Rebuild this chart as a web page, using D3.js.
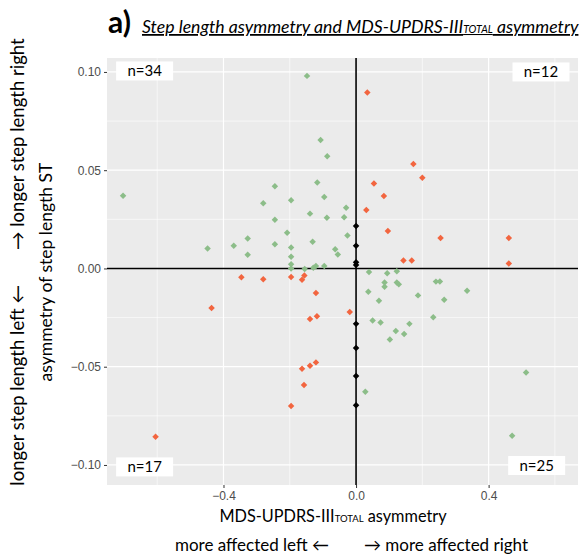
<!DOCTYPE html>
<html>
<head>
<meta charset="utf-8">
<script src="https://cdn.jsdelivr.net/npm/d3@7"></script>
<style>
  body { margin: 0; background: #fff; }
  text { font-family: Lato, "Open Sans", sans-serif; }
  .tick text { font-family: "Liberation Sans", Arial, sans-serif; }
</style>
</head>
<body>
<svg id="chart" width="580" height="556"></svg>
<script>
// upper-left / lower-right quadrant points (green)
var greenX = [-0.148, -0.107, -0.087, -0.703, -0.245, -0.117, -0.280, -0.196, -0.096, -0.139,
              -0.088, -0.036, -0.030, -0.245, -0.208, -0.026, -0.327, -0.369, -0.245, -0.196,
              -0.131, -0.063, -0.055, -0.448, -0.327, -0.196, -0.196, -0.196, -0.155, -0.129,
              -0.121, -0.096,
              0.039, 0.094, 0.123, 0.086, 0.086, 0.123, 0.129, 0.241, 0.253, 0.335,
              0.037, 0.187, 0.069, 0.266, 0.233, 0.050, 0.074, 0.161, 0.120, 0.145,
              0.102, 0.028, 0.513, 0.471];
var greenY = [0.0980, 0.0654, 0.0571, 0.0370, 0.0418, 0.0438, 0.0332, 0.0347, 0.0364, 0.0279,
              0.0258, 0.0261, 0.0309, 0.0248, 0.0182, 0.0168, 0.0153, 0.0116, 0.0123, 0.0107,
              0.0136, 0.0098, 0.0071, 0.0101, 0.0070, 0.0060, 0.0021, 0.0000, -0.0003, 0.0004,
              0.0013, 0.0013,
              -0.0018, -0.0024, -0.0014, -0.0072, -0.0093, -0.0071, -0.0081, -0.0067, -0.0066, -0.0113,
              -0.0119, -0.0137, -0.0164, -0.0159, -0.0248, -0.0265, -0.0275, -0.0282, -0.0318, -0.0333,
              -0.0361, -0.0628, -0.0530, -0.0851];

// upper-right / lower-left quadrant points (red)
var redX = [0.034, 0.173, 0.200, 0.054, 0.084, 0.031, 0.096, 0.255, 0.461, 0.143, 0.168, 0.461,
            -0.346, -0.280, -0.196, -0.163, -0.156, -0.121, -0.436, -0.139, -0.118, -0.019,
            -0.163, -0.139, -0.121, -0.157, -0.196, -0.605];
var redY = [0.0895, 0.0532, 0.0462, 0.0432, 0.0369, 0.0298, 0.0191, 0.0155, 0.0155, 0.0041, 0.0041, 0.0025,
            -0.0045, -0.0055, -0.0044, -0.0058, -0.0036, -0.0125, -0.0201, -0.0257, -0.0243, -0.0222,
            -0.0510, -0.0495, -0.0478, -0.0593, -0.0700, -0.0856];

// symmetric UPDRS (x = 0)
var blackY = [0.0216, 0.0115, 0.0031, 0.0018, -0.0282, -0.0405, -0.0547, -0.0696];

var xTicks = [-0.4, 0, 0.4];
var yTicks = [-0.10, -0.05, 0, 0.05, 0.10];
var countLabels = ["n=34", "n=12", "n=17", "n=25"];
var countX = [-0.638, 0.558, -0.638, 0.545];
var countY = [0.1005, 0.1000, -0.1010, -0.1003];

var svg = d3.select("svg#chart"),
    margin = {top: 58, right: 2, bottom: 71, left: 107},
    width = +svg.attr("width") - margin.left - margin.right,
    height = +svg.attr("height") - margin.top - margin.bottom;

var x = d3.scaleLinear().domain([-0.7515, 0.6697]).range([0, width]),
    y = d3.scaleLinear().domain([-0.1102, 0.1071]).range([height, 0]);

var g = svg.append("g")
    .attr("transform", "translate(" + margin.left + "," + margin.top + ")");

g.append("rect")
    .attr("width", width)
    .attr("height", height)
    .attr("fill", "#ebebeb");

// minor grid sits halfway between the major breaks
var xMinor = [-0.6, -0.2, 0.2, 0.6],
    yMinor = [-0.075, -0.025, 0.025, 0.075];

g.selectAll(".vminor").data(xMinor).enter().append("line")
    .attr("x1", function(d) { return x(d); }).attr("x2", function(d) { return x(d); })
    .attr("y1", 0).attr("y2", height)
    .attr("stroke", "#fff").attr("stroke-width", 0.6);
g.selectAll(".hminor").data(yMinor).enter().append("line")
    .attr("y1", function(d) { return y(d); }).attr("y2", function(d) { return y(d); })
    .attr("x1", 0).attr("x2", width)
    .attr("stroke", "#fff").attr("stroke-width", 0.6);
g.selectAll(".vmajor").data(xTicks).enter().append("line")
    .attr("x1", function(d) { return x(d); }).attr("x2", function(d) { return x(d); })
    .attr("y1", 0).attr("y2", height)
    .attr("stroke", "#fff").attr("stroke-width", 1.2);
g.selectAll(".hmajor").data(yTicks).enter().append("line")
    .attr("y1", function(d) { return y(d); }).attr("y2", function(d) { return y(d); })
    .attr("x1", 0).attr("x2", width)
    .attr("stroke", "#fff").attr("stroke-width", 1.2);

// zero lines
g.append("line")
    .attr("x1", 0).attr("x2", width).attr("y1", y(0)).attr("y2", y(0))
    .attr("stroke", "#000").attr("stroke-width", 1.6);
g.append("line")
    .attr("x1", x(0)).attr("x2", x(0)).attr("y1", 0).attr("y2", height)
    .attr("stroke", "#000").attr("stroke-width", 1.6);

var diamond = d3.symbol().type(d3.symbolSquare).size(21);

function drawPoints(xs, ys, colour) {
  g.append("g").selectAll("path")
      .data(xs.map(function(d, i) { return {x: d, y: ys[i]}; }))
    .enter().append("path")
      .attr("d", diamond)
      .attr("fill", colour)
      .attr("transform", function(d) { return "translate(" + x(d.x) + "," + y(d.y) + ") rotate(45)"; });
}

drawPoints(greenX, greenY, "#8cbd89");
drawPoints(redX, redY, "#f2653f");
drawPoints(blackY.map(function() { return 0; }), blackY, "#000");

// n= boxes
var boxes = g.selectAll(".nbox")
    .data(countLabels.map(function(d, i) { return {t: d, x: countX[i], y: countY[i]}; }))
  .enter().append("g")
    .attr("transform", function(d) { return "translate(" + x(d.x) + "," + y(d.y) + ")"; });
boxes.append("rect")
    .attr("x", -28.5).attr("y", -9.5).attr("width", 57).attr("height", 19)
    .attr("fill", "#fff");
boxes.append("text")
    .attr("text-anchor", "middle")
    .attr("dy", "0.36em")
    .style("font-size", "15px")
    .text(function(d) { return d.t; });

// axes
var xAxis = g.append("g")
    .attr("transform", "translate(0," + height + ")")
    .call(d3.axisBottom(x).tickValues(xTicks).tickFormat(d3.format(".1f")).tickSize(3).tickPadding(3));
var yAxis = g.append("g")
    .call(d3.axisLeft(y).tickValues(yTicks).tickFormat(d3.format(".2f")).tickSize(3).tickPadding(3));
[xAxis, yAxis].forEach(function(a) {
  a.select(".domain").remove();
  a.selectAll(".tick line").attr("stroke", "#333");
  a.selectAll(".tick text").attr("fill", "#4d4d4d").style("font-size", "12px");
});

// axis titles
var xt = svg.append("text")
    .attr("x", 333).attr("y", 522)
    .attr("text-anchor", "middle")
    .style("font-size", "16.3px");
xt.append("tspan").text("MDS-UPDRS-III");
xt.append("tspan").style("font-size", "9.5px").text("TOTAL");
xt.append("tspan").text(" asymmetry");

svg.append("text").attr("x", 329).attr("y", 551).attr("text-anchor", "end")
    .style("font-size", "17px").text("more affected left \u2190");
svg.append("text").attr("x", 364).attr("y", 551)
    .style("font-size", "17px").text("\u2192 more affected right");

svg.append("text")
    .attr("transform", "translate(52,272) rotate(-90)")
    .attr("text-anchor", "middle")
    .style("font-size", "17.5px")
    .text("asymmetry of step length ST");
svg.append("text")
    .attr("transform", "translate(24,285) rotate(-90)")
    .attr("text-anchor", "end")
    .style("font-size", "18.5px")
    .text("longer step length left \u2190");
svg.append("text")
    .attr("transform", "translate(24,250) rotate(-90)")
    .style("font-size", "18.5px")
    .text("\u2192 longer step length right");

// title
svg.append("text")
    .attr("x", 108).attr("y", 33)
    .style("font-size", "30px").style("font-weight", "bold")
    .text("a)");
var title = svg.append("text")
    .attr("x", 142).attr("y", 33)
    .style("font-size", "17.7px").style("font-style", "italic")
    .style("text-decoration", "underline");
title.append("tspan").text("Step length asymmetry and MDS-UPDRS-III");
title.append("tspan").style("font-size", "10.5px").text("TOTAL");
title.append("tspan").text(" asymmetry");
</script>
</body>
</html>
